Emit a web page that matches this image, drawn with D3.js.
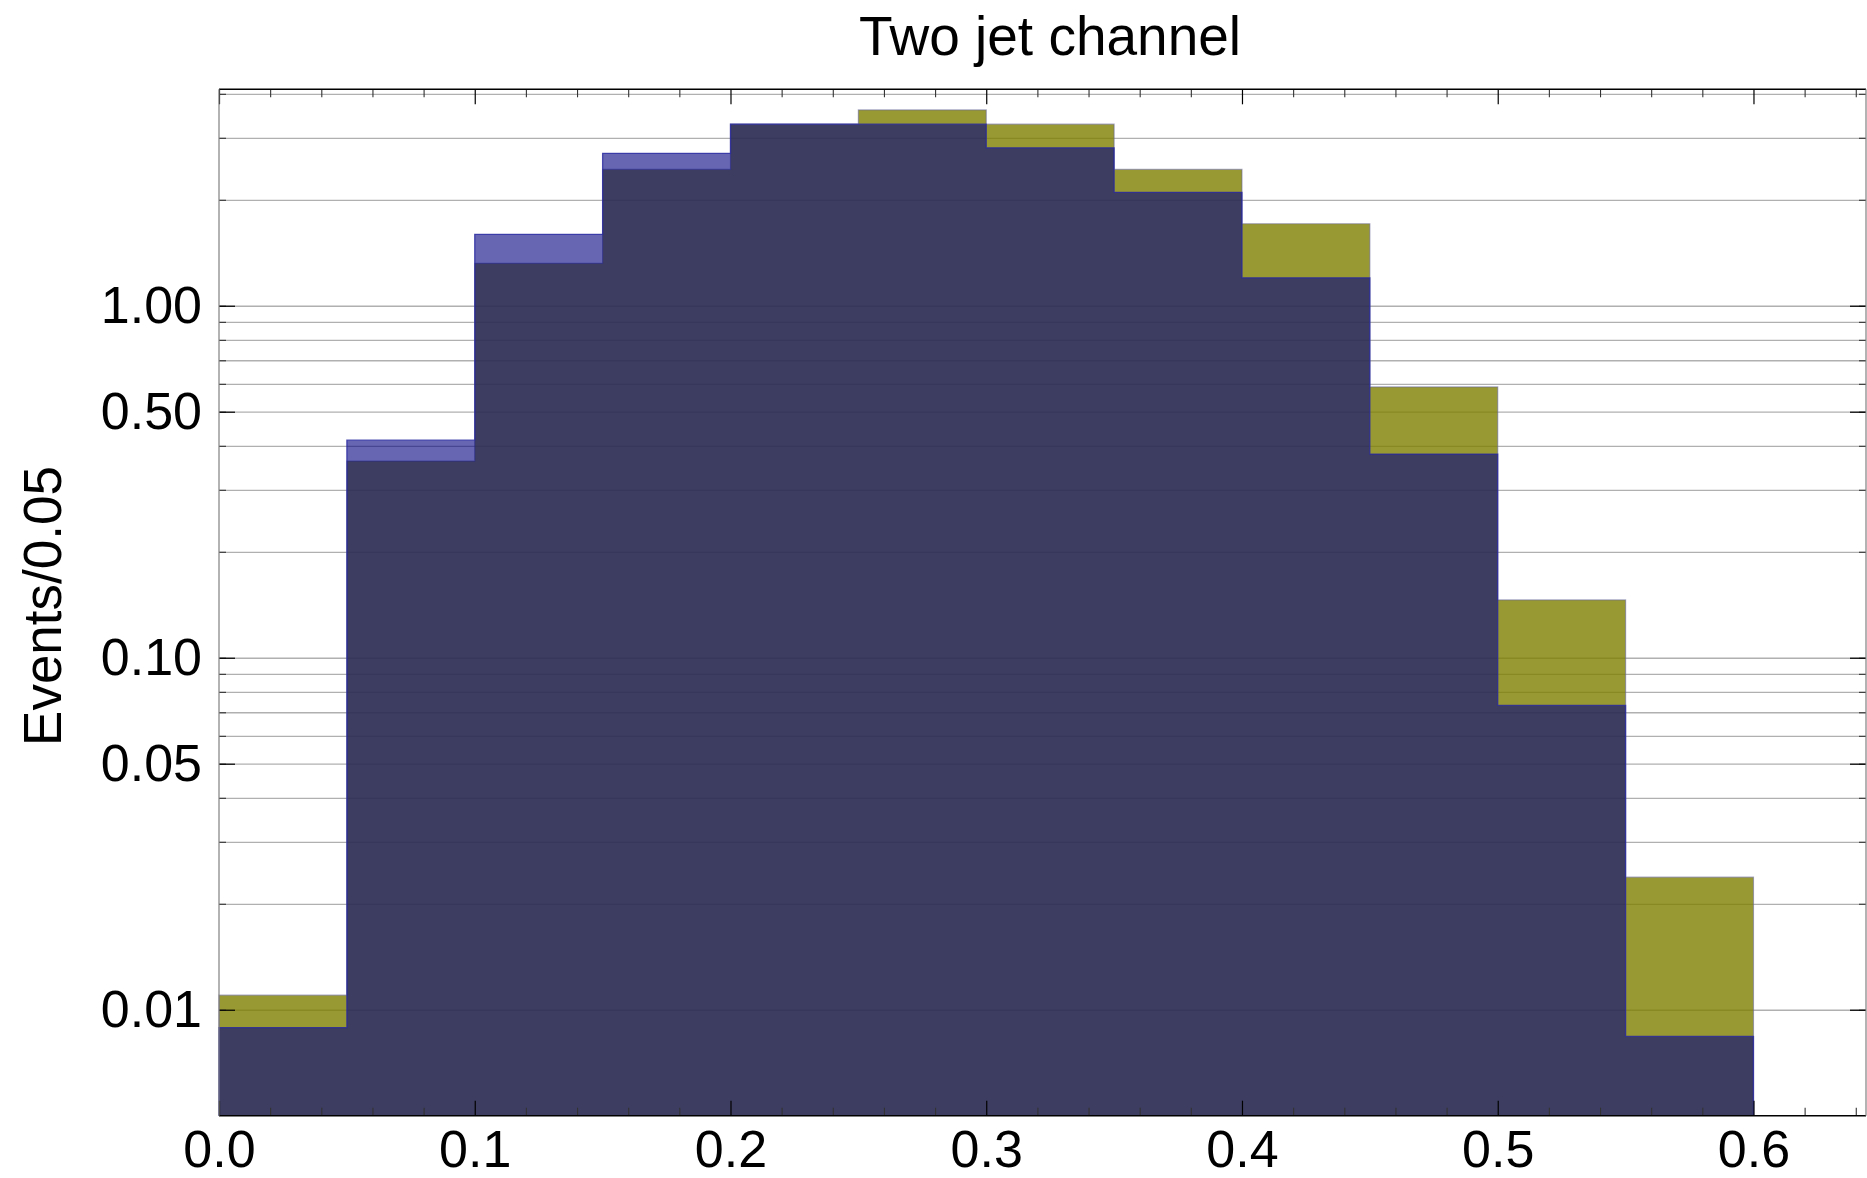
<!DOCTYPE html>
<html>
<head>
<meta charset="utf-8">
<script src="https://cdn.jsdelivr.net/npm/d3@7"></script>
<style>
  html, body { margin: 0; padding: 0; background: #fff; }
  svg { display: block; }
  text { font-family: "Liberation Sans", Arial, Helvetica, sans-serif; fill: #000; }
</style>
</head>
<body>
<svg id="chart" width="1867" height="1178"></svg>
<script>
// ---------------- data ----------------
const binEdges = [0, 0.05, 0.10, 0.15, 0.20, 0.25, 0.30, 0.35, 0.40, 0.45, 0.50, 0.55, 0.60];
const oliveValues = [0.011, 0.362, 1.32, 2.44, 3.28, 3.60, 3.28, 2.44, 1.71, 0.588, 0.146, 0.0238];
const blueValues  = [0.0089, 0.415, 1.595, 2.71, 3.28, 3.28, 2.81, 2.10, 1.20, 0.379, 0.0732, 0.0084];

const xMajorTicks = [0, 0.1, 0.2, 0.3, 0.4, 0.5, 0.6];
const xMinorTicks = [0.02, 0.04, 0.06, 0.08, 0.12, 0.14, 0.16, 0.18, 0.22, 0.24, 0.26, 0.28,
                     0.32, 0.34, 0.36, 0.38, 0.42, 0.44, 0.46, 0.48, 0.52, 0.54, 0.56, 0.58, 0.62, 0.64];
const yMajorTicks = [0.01, 0.05, 0.1, 0.5, 1];
const yGridValues = [0.01, 0.02, 0.03, 0.04, 0.05, 0.06, 0.07, 0.08, 0.09,
                     0.1, 0.2, 0.3, 0.4, 0.5, 0.6, 0.7, 0.8, 0.9,
                     1, 2, 3, 4];

const titleText = "Two jet channel";
const yLabelText = "Events/0.05";

// ---------------- layout ----------------
const plotLeft = 219, plotRight = 1866, plotTop = 89.3, plotBottom = 1115.7;
const yFloor = 0.005;
const svg = d3.select("#chart");

const x = d3.scaleLinear().domain([0, 0.644]).range([plotLeft, plotRight]);
const y = d3.scaleLog().domain([yFloor, 4.12]).range([plotBottom, plotTop]);

// gridlines (under bars)
const grid = svg.append("g")
  .attr("transform", `translate(${plotLeft},0)`)
  .call(d3.axisLeft(y).tickValues(yGridValues).tickSize(-(plotRight - plotLeft)).tickFormat(""));
grid.select(".domain").remove();
grid.selectAll(".tick line").attr("stroke", "#b0b0b0").attr("stroke-width", 1.3);

// histogram step shapes: one point per bin start plus the closing edge
function stepPoints(values) {
  const pts = values.map((v, i) => ({ x: binEdges[i], v: v }));
  pts.push({ x: binEdges[binEdges.length - 1], v: values[values.length - 1] });
  return pts;
}
function outlinePoints(values) {
  const pts = stepPoints(values);
  return [{ x: binEdges[0], v: yFloor }, ...pts, { x: binEdges[binEdges.length - 1], v: yFloor }];
}

const area = d3.area().curve(d3.curveStepAfter)
  .x(d => x(d.x)).y0(y(yFloor)).y1(d => y(d.v));
const outline = d3.line()
  .x(d => x(d.x)).y(d => y(d.v));
const stepOutline = pts => {
  // build step-after outline including vertical ends
  const path = d3.path();
  path.moveTo(x(pts[0].x), y(pts[0].v));
  for (let i = 1; i < pts.length; i++) {
    const prev = pts[i - 1], cur = pts[i];
    if (i > 1 && i < pts.length - 1) path.lineTo(x(cur.x), y(prev.v));
    else if (i === pts.length - 1) path.lineTo(x(cur.x), y(prev.v));
    path.lineTo(x(cur.x), y(cur.v));
  }
  return path.toString();
};

// olive series
svg.append("path").datum(stepPoints(oliveValues))
  .attr("d", area)
  .attr("fill", "rgb(128,128,0)").attr("fill-opacity", 0.8).attr("stroke", "none");
svg.append("path").datum(outlinePoints(oliveValues))
  .attr("d", stepOutline)
  .attr("fill", "none").attr("stroke", "rgba(100,100,150,0.55)").attr("stroke-width", 1.2);

// blue series
svg.append("path").datum(stepPoints(blueValues))
  .attr("d", area)
  .attr("fill", "rgb(0,0,128)").attr("fill-opacity", 0.6).attr("stroke", "none");
svg.append("path").datum(outlinePoints(blueValues))
  .attr("d", stepOutline)
  .attr("fill", "none").attr("stroke", "rgba(40,40,160,0.8)").attr("stroke-width", 1.3);

// axes
function styleAxis(g, color, width) {
  g.select(".domain").remove();
  g.selectAll(".tick line").attr("stroke", color).attr("stroke-width", width);
  g.selectAll(".tick text").attr("font-size", 52).attr("font-family", '"Liberation Sans", Arial, Helvetica, sans-serif').attr("fill", "#000");
}

// left
styleAxis(svg.append("g").attr("transform", `translate(${plotLeft},0)`)
  .call(d3.axisLeft(y).tickValues(yGridValues).tickSize(-7).tickFormat("")), "#333", 1.1);
styleAxis(svg.append("g").attr("transform", `translate(${plotLeft},0)`)
  .call(d3.axisLeft(y).tickValues(yMajorTicks).tickSize(-16).tickPadding(17).tickFormat(d3.format(".2f"))), "#000", 1.2);
// right
styleAxis(svg.append("g").attr("transform", `translate(${plotRight},0)`)
  .call(d3.axisRight(y).tickValues(yGridValues).tickSize(-7).tickFormat("")), "#333", 1.1);
styleAxis(svg.append("g").attr("transform", `translate(${plotRight},0)`)
  .call(d3.axisRight(y).tickValues(yMajorTicks).tickSize(-16).tickFormat("")), "#000", 1.2);
// bottom
styleAxis(svg.append("g").attr("transform", `translate(0,${plotBottom})`)
  .call(d3.axisBottom(x).tickValues(xMinorTicks).tickSize(-8).tickFormat("")), "#333", 1.1);
styleAxis(svg.append("g").attr("transform", `translate(0,${plotBottom})`)
  .call(d3.axisBottom(x).tickValues(xMajorTicks).tickSize(-15).tickPadding(14).tickFormat(d3.format(".1f"))), "#000", 1.2);
// top
styleAxis(svg.append("g").attr("transform", `translate(0,${plotTop})`)
  .call(d3.axisTop(x).tickValues(xMinorTicks).tickSize(-8).tickFormat("")), "#333", 1.1);
styleAxis(svg.append("g").attr("transform", `translate(0,${plotTop})`)
  .call(d3.axisTop(x).tickValues(xMajorTicks).tickSize(-15).tickFormat("")), "#000", 1.2);

// frame
svg.append("line").attr("x1", plotLeft).attr("x2", plotRight).attr("y1", plotBottom).attr("y2", plotBottom)
  .attr("stroke", "#000").attr("stroke-width", 1.6);
svg.append("line").attr("x1", plotLeft).attr("x2", plotRight).attr("y1", plotTop).attr("y2", plotTop)
  .attr("stroke", "#000").attr("stroke-width", 1.4);
svg.append("line").attr("x1", plotLeft).attr("x2", plotLeft).attr("y1", plotTop).attr("y2", plotBottom)
  .attr("stroke", "#808080").attr("stroke-width", 1.2);
svg.append("line").attr("x1", plotRight).attr("x2", plotRight).attr("y1", plotTop).attr("y2", plotBottom)
  .attr("stroke", "#808080").attr("stroke-width", 1.2);

// title
svg.append("text").attr("x", 1050).attr("y", 55).attr("text-anchor", "middle")
  .attr("font-size", 55).text(titleText);

// y label
svg.append("text").attr("transform", "translate(61,606) rotate(-90)")
  .attr("text-anchor", "middle").attr("font-size", 53).text(yLabelText);
</script>
</body>
</html>
